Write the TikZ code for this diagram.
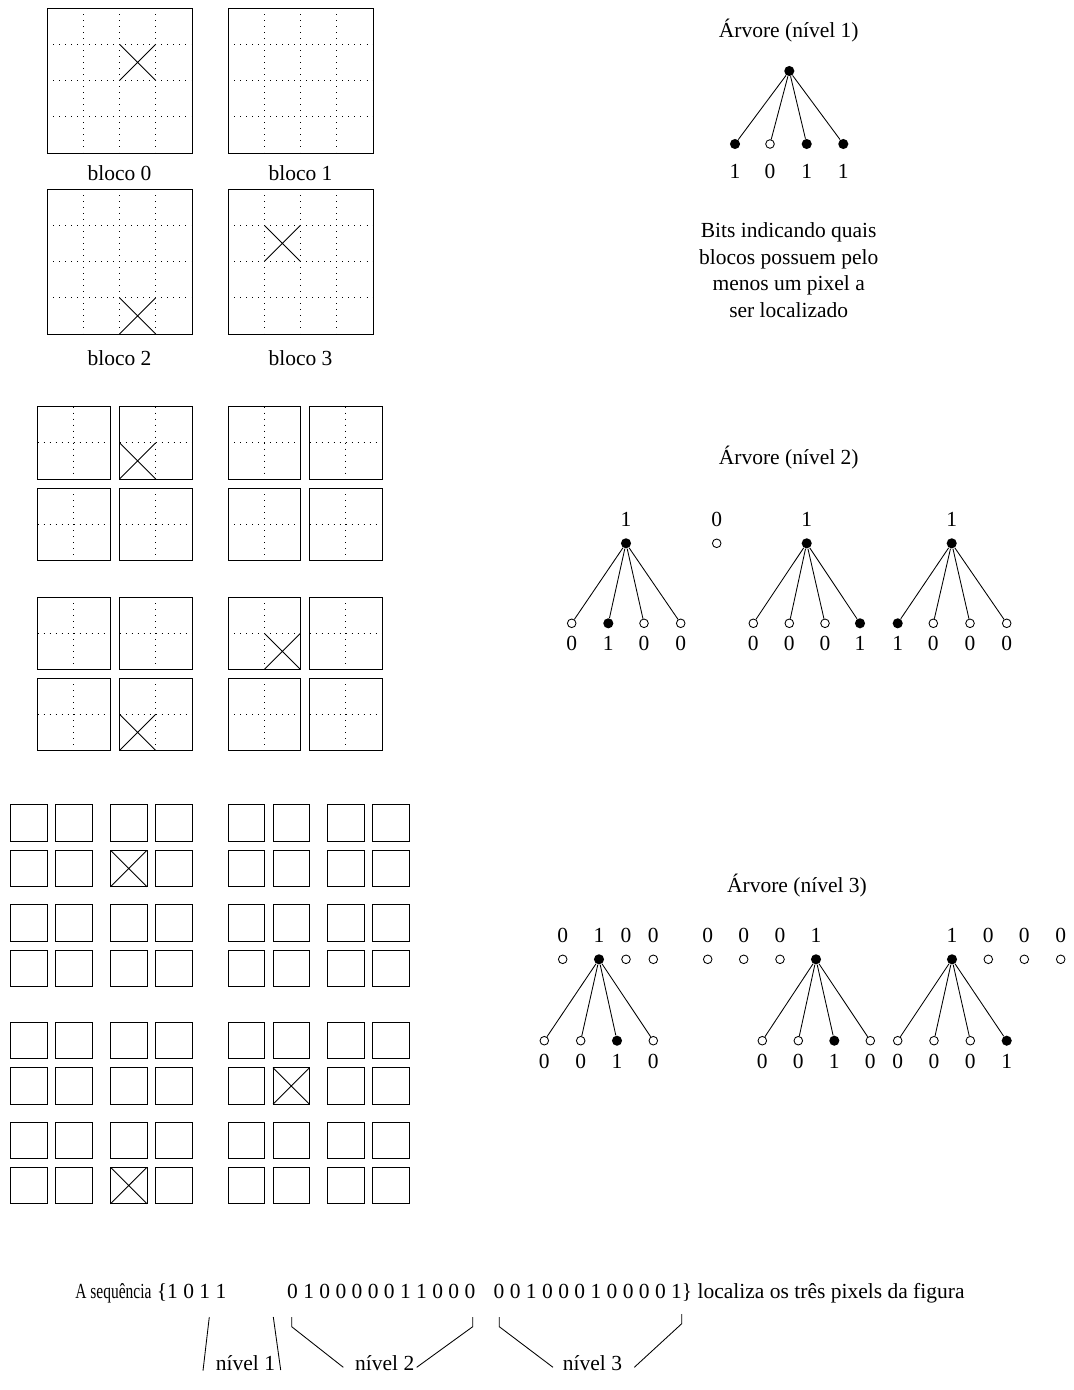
\documentclass[tikz,border=0pt]{standalone}
\usepackage{graphicx}
\usepackage{fontspec}
\setmainfont{Liberation Serif}
\usetikzlibrary{positioning}
\tikzset{
  boxline/.style={line width=0.4pt},
  gridline/.style={line width=0.45pt,dash pattern=on 0.45pt off 2.35pt},
  pix/.style={line width=0.4pt},
  edge/.style={line width=0.4pt},
  bitset/.style={circle,fill,inner sep=0pt,minimum size=4.7pt},
  bitclr/.style={circle,draw,line width=0.4pt,inner sep=0pt,minimum size=4pt},
  lbl/.style={inner sep=0pt,font=\fontsize{10pt}{12.4pt}\selectfont}
}
% pixel marcado: X dentro de um quadrado
\newcommand{\marcapix}[3]{\draw[pix] (#1,#2) -- ++(#3,#3) (#1+#3,#2) -- ++(-#3,#3);}

\begin{document}
\begin{tikzpicture}[x=0.465pt,y=-0.465pt]
\useasboundingbox (0,0) rectangle (1074,1390);

% nivel 1: quatro blocos 4x4
\foreach \bx/\by in {47/8,228/8,47/189,228/189}{
  \foreach \k in {1,2,3}
    \draw[gridline] (\bx+\k*36.25,\by) -- ++(0,145) (\bx,\by+\k*36.25) -- ++(145,0);
  \draw[boxline] (\bx,\by) rectangle ++(145,145);
}
\marcapix{119.5}{44.25}{36.25}
\marcapix{119.5}{297.75}{36.25}
\marcapix{264.25}{225.25}{36.25}

\node[lbl,anchor=base] (bloco0) at (119.5,180) {bloco 0};
\node[lbl,anchor=base] (bloco1) at (300.5,180) {bloco 1};
\node[lbl,anchor=base] (bloco2) at (119.5,365) {bloco 2};
\node[lbl,anchor=base] (bloco3) at (300.5,365) {bloco 3};

% nivel 2: sub-blocos 2x2
\foreach \cx in {37.5,119.5,228,309.5}
  \foreach \cy in {406.5,488,597,678}{
    \draw[gridline] (\cx+36.25,\cy) -- ++(0,72.5) (\cx,\cy+36.25) -- ++(72.5,0);
    \draw[boxline] (\cx,\cy) rectangle ++(72.5,72.5);
  }
\marcapix{119.5}{442.75}{36.25}
\marcapix{119.5}{714.25}{36.25}
\marcapix{264.25}{633.25}{36.25}

% nivel 3: pixels
\foreach \cx in {10.5,55.5,110.5,155.5,228,273,327.5,372.5}
  \foreach \cy in {804.7,850.3,904.7,950,1022.3,1067.7,1122,1167.3}
    \draw[boxline] (\cx,\cy) rectangle ++(36.5,36.5);
\marcapix{110.5}{850.3}{36.5}
\marcapix{273}{1067.7}{36.5}
\marcapix{110.5}{1167.3}{36.5}

% arvore nivel 1
\node[lbl,anchor=base] (arv1) at (788.7,37.5) {Árvore (nível 1)};
\node[bitset] (r) at (789.3,71) {};
\foreach \x/\s/\b [count=\i] in {735/bitset/1,770/bitclr/0,806.7/bitset/1,843.3/bitset/1}{
  \node[\s] (f\i) at (\x,144) {};
  \node[lbl,anchor=base] (fb\i) at (\x,178.5) {\b};
  \draw[edge] (r) -- (f\i);
}
\node[lbl,align=center,anchor=north] (bits) at (788.7,222)
  {Bits indicando quais\\blocos possuem pelo\\menos um pixel a\\ser localizado};

% arvore nivel 2
\node[lbl,anchor=base] (arv2) at (788.7,464) {Árvore (nível 2)};
\foreach \x/\s/\b [count=\i] in {626/bitset/1,716.7/bitclr/0,806.7/bitset/1,951.7/bitset/1}{
  \node[\s] (n\i) at (\x,543.3) {};
  \node[lbl,anchor=base] (nb\i) at (\x,526.5) {\b};
}
\foreach \x/\s/\b/\p [count=\i] in {571.7/bitclr/0/1,608.3/bitset/1/1,644/bitclr/0/1,680.7/bitclr/0/1,
    753.3/bitclr/0/3,789.3/bitclr/0/3,825/bitclr/0/3,860/bitset/1/3,
    897.7/bitset/1/4,933.3/bitclr/0/4,970/bitclr/0/4,1006.7/bitclr/0/4}{
  \node[\s] (m\i) at (\x,623.3) {};
  \node[lbl,anchor=base] (mb\i) at (\x,650) {\b};
  \draw[edge] (n\p) -- (m\i);
}

% arvore nivel 3
\node[lbl,anchor=base] (arv3) at (797,892) {Árvore (nível 3)};
\foreach \x/\s/\b [count=\i] in {562.7/bitclr/0,599/bitset/1,626/bitclr/0,653.3/bitclr/0,
    707.7/bitclr/0,743.7/bitclr/0,780/bitclr/0,816/bitset/1,
    952/bitset/1,988.3/bitclr/0,1024.3/bitclr/0,1060.7/bitclr/0}{
  \node[\s] (p\i) at (\x,959.3) {};
  \node[lbl,anchor=base] (pb\i) at (\x,942) {\b};
}
\foreach \x/\s/\b/\p [count=\i] in {544.3/bitclr/0/2,580.7/bitclr/0/2,617/bitset/1/2,653.3/bitclr/0/2,
    762.3/bitclr/0/8,798.3/bitclr/0/8,834.3/bitset/1/8,870.3/bitclr/0/8,
    897.7/bitclr/0/9,934/bitclr/0/9,970.3/bitclr/0/9,1006.7/bitset/1/9}{
  \node[\s] (q\i) at (\x,1040.7) {};
  \node[lbl,anchor=base] (qb\i) at (\x,1068.3) {\b};
  \draw[edge] (p\p) -- (q\i);
}

% sequencia final
\node[lbl,anchor=base east] (seq1) at (226.7,1298) {\scalebox{0.72}[1]{A sequência} \{1 0 1 1};
\node[lbl,anchor=base west] (seq2) at (286.7,1298) {0 1 0 0 0 0 0 1 1 0 0 0};
\node[lbl,anchor=base west] (seq3) at (493.3,1298) {0 0 1 0 0 0 1 0 0 0 0 1\} localiza os três pixels da figura};

\node[lbl,anchor=base] (niv1) at (245.5,1370) {nível 1};
\node[lbl,anchor=base] (niv2) at (384.7,1370) {nível 2};
\node[lbl,anchor=base] (niv3) at (592.5,1370) {nível 3};

\coordinate (s1a) at (209.3,1317);  \coordinate (e1a) at (203,1370.7);
\coordinate (s1b) at (273.3,1317);  \coordinate (e1b) at (280.7,1370);
\coordinate (s2a) at (291.7,1317);  \coordinate (e2a) at (343.3,1367.3);
\coordinate (s2b) at (472.7,1317);  \coordinate (e2b) at (416.7,1367.3);
\coordinate (s3a) at (499.3,1317);  \coordinate (e3a) at (553,1367.3);
\coordinate (s3b) at (681.7,1314);  \coordinate (e3b) at (634.3,1367.3);

\draw[edge] (s1a) -- (e1a);
\draw[edge] (s1b) -- (e1b);
\draw[edge] (s2a) -- ++(0,9.7) -- (e2a);
\draw[edge] (s2b) -- ++(0,9.7) -- (e2b);
\draw[edge] (s3a) -- ++(0,9.7) -- (e3a);
\draw[edge] (s3b) -- ++(0,9.7) -- (e3b);

\end{tikzpicture}
\end{document}
